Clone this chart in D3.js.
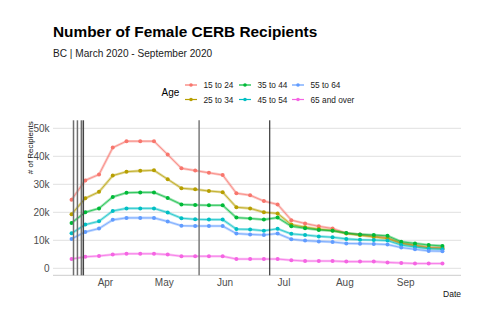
<!DOCTYPE html>
<html>
<head>
<meta charset="utf-8">
<script src="https://cdn.jsdelivr.net/npm/d3@7"></script>
<style>
  body { margin: 0; background: #fff; }
  text { font-family: "Liberation Sans", Arial, sans-serif; }
</style>
</head>
<body>
<div id="chart"></div>
<script>
var svgWidth = 487;
var svgHeight = 323;

// weekly dates, Mar 15 to Sep 20 2020
var dates = ["2020-03-15", "2020-03-22", "2020-03-29", "2020-04-05", "2020-04-12",
  "2020-04-19", "2020-04-26", "2020-05-03", "2020-05-10", "2020-05-17", "2020-05-24",
  "2020-05-31", "2020-06-07", "2020-06-14", "2020-06-21", "2020-06-28", "2020-07-05",
  "2020-07-12", "2020-07-19", "2020-07-26", "2020-08-02", "2020-08-09", "2020-08-16",
  "2020-08-23", "2020-08-30", "2020-09-06", "2020-09-13", "2020-09-20"];

var ageGroups = ["15 to 24", "25 to 34", "35 to 44", "45 to 54", "55 to 64", "65 and over"];
var colors = ["#F8766D", "#B79F00", "#00BA38", "#00BFC4", "#619CFF", "#F564E3"];

var age15to24 = [24.5, 31.4, 33.5, 43.1, 45.4, 45.4, 45.4, 40.6, 35.7, 34.9, 34.1, 33.3,
  26.8, 26.1, 24.0, 22.8, 17.2, 16.0, 15.0, 14.2, 12.5, 12.1, 11.5, 10.9, 9.0, 8.2, 7.5, 7.4];
var age25to34 = [19.3, 25.0, 27.3, 33.1, 34.5, 34.8, 35.0, 31.8, 28.6, 28.2, 27.6, 27.2,
  21.8, 21.4, 20.0, 19.6, 15.6, 14.7, 14.0, 13.5, 12.4, 11.8, 11.2, 10.6, 8.9, 8.1, 7.3, 7.1];
var age35to44 = [16.2, 20.0, 21.4, 25.5, 27.0, 27.1, 27.1, 25.1, 22.8, 22.6, 22.5, 22.5,
  18.1, 17.8, 17.4, 18.1, 15.0, 14.3, 13.7, 13.4, 12.6, 12.1, 11.9, 11.6, 9.5, 8.9, 8.3, 8.0];
var age45to54 = [12.5, 15.6, 16.8, 20.5, 21.4, 21.4, 21.4, 19.9, 17.9, 17.5, 17.4, 17.4,
  14.0, 13.9, 13.4, 14.1, 12.3, 11.9, 11.4, 11.1, 10.5, 10.2, 10.1, 9.9, 8.3, 7.6, 7.0, 6.8];
var age55to64 = [10.5, 13.0, 14.2, 17.3, 18.0, 18.0, 18.0, 16.7, 15.2, 15.1, 15.1, 15.1,
  12.4, 12.1, 11.9, 12.4, 10.4, 9.9, 9.6, 9.4, 8.9, 8.8, 8.7, 8.5, 7.4, 6.8, 6.2, 6.1];
var age65plus = [3.3, 4.1, 4.4, 4.9, 5.2, 5.2, 5.2, 4.9, 4.3, 4.3, 4.3, 4.3,
  3.3, 3.3, 3.3, 3.3, 2.9, 2.6, 2.6, 2.6, 2.4, 2.4, 2.4, 2.1, 1.9, 1.7, 1.7, 1.7];

// policy dates shown as vertical lines
var eventDates = ["2020-03-16", "2020-03-18", "2020-03-20", "2020-03-21", "2020-05-19", "2020-06-24"];
var eventColors = ["#6e6e6e", "#6e6e6e", "#6e6e6e", "#444444", "#7a7a7a", "#111111"];

var yTicks = [0, 10000, 20000, 30000, 40000, 50000];

var parseDate = d3.timeParse("%Y-%m-%d");
var seriesValues = [age15to24, age25to34, age35to44, age45to54, age55to64, age65plus];
var series = ageGroups.map(function(name, i) {
  return {
    name: name,
    color: colors[i],
    values: dates.map(function(d, j) {
      return { date: parseDate(d), value: seriesValues[i][j] * 1000 };
    })
  };
});

var panel = { left: 53, right: 461, top: 121.3, bottom: 275.3 };

var svg = d3.select("#chart")
  .append("svg")
  .attr("width", svgWidth)
  .attr("height", svgHeight);

// ggplot-style 5% expansion on the date range
var first = parseDate(dates[0]);
var last = parseDate(dates[dates.length - 1]);
var pad = (last - first) * 0.05;
var xScale = d3.scaleTime()
  .domain([new Date(+first - pad), new Date(+last + pad)])
  .range([panel.left, panel.right]);

var yScale = d3.scaleLinear()
  .domain([-2500, 52500])
  .range([panel.bottom, panel.top]);

// gridlines
svg.append("g")
  .selectAll("line")
  .data(yTicks)
  .enter()
  .append("line")
  .attr("x1", panel.left)
  .attr("x2", panel.right)
  .attr("y1", d => yScale(d))
  .attr("y2", d => yScale(d))
  .attr("stroke", "#e6e6e6")
  .attr("stroke-width", 1.3);

// bottom axis line
svg.append("line")
  .attr("x1", panel.left)
  .attr("x2", panel.right)
  .attr("y1", panel.bottom)
  .attr("y2", panel.bottom)
  .attr("stroke", "#d6d6d6")
  .attr("stroke-width", 1.2);

// y axis labels
var leftAxis = d3.axisLeft(yScale)
  .tickValues(yTicks)
  .tickSize(0)
  .tickPadding(3)
  .tickFormat(d => d === 0 ? "0" : (d / 1000) + "k");

var yAxis = svg.append("g")
  .attr("transform", `translate(${panel.left - 0.5}, 0)`)
  .call(leftAxis);
yAxis.select(".domain").remove();
yAxis.selectAll("text")
  .attr("fill", "#4d4d4d")
  .style("font-size", "10px")
  .style("font-family", "Liberation Sans, Arial, sans-serif");

// x axis labels
var bottomAxis = d3.axisBottom(xScale)
  .ticks(d3.timeMonth.every(1))
  .tickSize(0)
  .tickPadding(4)
  .tickFormat(d3.timeFormat("%b"));

var xAxis = svg.append("g")
  .attr("transform", `translate(0, ${panel.bottom})`)
  .call(bottomAxis);
xAxis.select(".domain").remove();
xAxis.selectAll(".tick").filter(d => d < first).remove();
xAxis.selectAll("text")
  .attr("fill", "#4d4d4d")
  .style("font-size", "10px")
  .style("font-family", "Liberation Sans, Arial, sans-serif");

// lines
var line = d3.line()
  .x(d => xScale(d.date))
  .y(d => yScale(d.value));

var groups = svg.append("g")
  .selectAll("g")
  .data(series)
  .enter()
  .append("g");

groups.append("path")
  .attr("d", d => line(d.values))
  .attr("fill", "none")
  .attr("stroke", d => d.color)
  .attr("stroke-width", 2.6)
  .attr("stroke-opacity", 0.4);

groups.append("path")
  .attr("d", d => line(d.values))
  .attr("fill", "none")
  .attr("stroke", d => d.color)
  .attr("stroke-width", 0.8)
  .attr("stroke-opacity", 0.85);

groups.selectAll("circle")
  .data(d => d.values.map(v => ({ date: v.date, value: v.value, color: d.color })))
  .enter()
  .append("circle")
  .attr("cx", d => xScale(d.date))
  .attr("cy", d => yScale(d.value))
  .attr("r", 2)
  .attr("fill", d => d.color);

// vertical event lines
svg.append("g")
  .selectAll("line")
  .data(eventDates)
  .enter()
  .append("line")
  .attr("x1", d => xScale(parseDate(d)))
  .attr("x2", d => xScale(parseDate(d)))
  .attr("y1", panel.top - 1)
  .attr("y2", panel.bottom)
  .attr("stroke", (d, i) => eventColors[i])
  .attr("stroke-width", (d, i) => i === 5 ? 1 : 1.5);

// axis titles
svg.append("text")
  .attr("transform", `translate(32.5, ${panel.top}) rotate(-90)`)
  .attr("text-anchor", "end")
  .style("font-size", "8px")
  .attr("fill", "#111")
  .text("# of Recipients");

svg.append("text")
  .attr("x", panel.right)
  .attr("y", 296.5)
  .attr("text-anchor", "end")
  .style("font-size", "8.5px")
  .attr("fill", "#111")
  .text("Date");

// title & subtitle
svg.append("text")
  .attr("x", 53)
  .attr("y", 37)
  .style("font-size", "15.4px")
  .style("font-weight", "bold")
  .attr("fill", "#000")
  .text("Number of Female CERB Recipients");

svg.append("text")
  .attr("x", 53)
  .attr("y", 57)
  .style("font-size", "10.1px")
  .attr("fill", "#1a1a1a")
  .text("BC | March 2020 - September 2020");

// legend
var legend = svg.append("g");
legend.append("text")
  .attr("x", 161.5)
  .attr("y", 96)
  .style("font-size", "10px")
  .attr("fill", "#000")
  .text("Age");

var keyX = [185, 239, 292];
var rowY = [85, 99.5];
var items = legend.selectAll("g.item")
  .data(series)
  .enter()
  .append("g")
  .attr("class", "item")
  .attr("transform", (d, i) => `translate(${keyX[Math.floor(i / 2)]}, ${rowY[i % 2]})`);

items.append("line")
  .attr("x1", 0)
  .attr("x2", 12)
  .attr("stroke", d => d.color)
  .attr("stroke-width", 1.2);
items.append("circle")
  .attr("cx", 6)
  .attr("r", 1.8)
  .attr("fill", d => d.color);
items.append("text")
  .attr("x", 18.5)
  .attr("y", 3)
  .style("font-size", "8.3px")
  .attr("fill", "#1a1a1a")
  .text(d => d.name);
</script>
</body>
</html>
